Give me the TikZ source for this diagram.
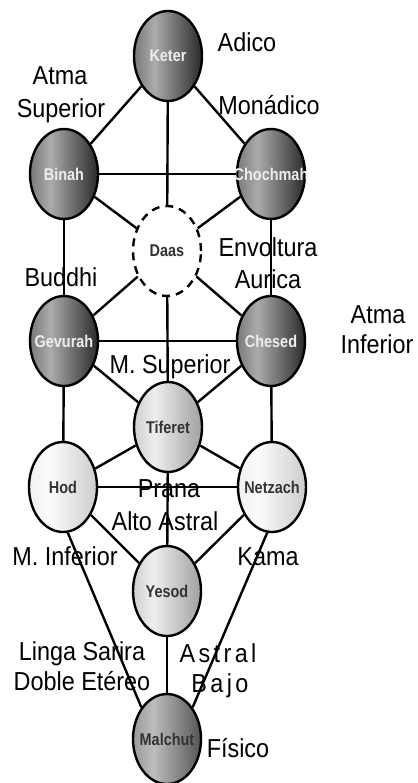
\documentclass[tikz,border=0pt]{standalone}
\usepackage{fontspec}
\setmainfont{Liberation Sans}
\newfontfamily\nodefont[FakeStretch=0.85]{Liberation Sans}
\newfontfamily\lblfont[FakeStretch=0.9]{Liberation Sans}
\usetikzlibrary{shapes.geometric}
\definecolor{dkL}{HTML}{7A7A7A}
\definecolor{dkM}{HTML}{ABABAB}
\definecolor{dkR}{HTML}{2A2A2A}
\definecolor{mdL}{HTML}{999999}
\definecolor{mdM}{HTML}{BDBDBD}
\definecolor{mdR}{HTML}{555555}
\definecolor{ltL}{HTML}{CFCFCF}
\definecolor{ltM}{HTML}{EEEEEE}
\definecolor{ltR}{HTML}{A0A0A0}
\definecolor{wtL}{HTML}{F0F0F0}
\definecolor{wtM}{HTML}{FCFCFC}
\definecolor{wtR}{HTML}{CCCCCC}
\pgfdeclarehorizontalshading{darkball}{100bp}{color(0bp)=(dkL); color(25bp)=(dkL); color(40bp)=(dkM); color(75bp)=(dkR); color(100bp)=(dkR)}
\pgfdeclarehorizontalshading{midball}{100bp}{color(0bp)=(mdL); color(25bp)=(mdL); color(40bp)=(mdM); color(75bp)=(mdR); color(100bp)=(mdR)}
\pgfdeclarehorizontalshading{lightball}{100bp}{color(0bp)=(ltL); color(25bp)=(ltL); color(40bp)=(ltM); color(75bp)=(ltR); color(100bp)=(ltR)}
\pgfdeclarehorizontalshading{whiteball}{100bp}{color(0bp)=(wtL); color(25bp)=(wtL); color(40bp)=(wtM); color(75bp)=(wtR); color(100bp)=(wtR)}
\newcommand\zw[1]{\makebox[0pt][c]{#1}}
\tikzset{
  sefira/.style={ellipse, draw=black, line width=2.4pt, minimum width=68pt, minimum height=90pt, inner sep=0pt,
    font=\nodefont\bfseries\fontsize{17}{18}\selectfont},
  darksef/.style={sefira, shading=darkball, text=white!93!black},
  midsef/.style={sefira, shading=midball, text=black!80},
  lightsef/.style={sefira, shading=lightball, text=black!80},
  whitesef/.style={sefira, shading=whiteball, text=black!80},
  hiddensef/.style={sefira, fill=white, dash pattern=on 8pt off 6pt, text=black!80},
  path/.style={draw=black, line width=2.4pt},
  lbl/.style={anchor=base, inner sep=0pt, font=\lblfont\fontsize{26}{30}\selectfont}
}
\newcommand\lsp{\kern3.4pt}
\begin{document}
\begin{tikzpicture}[x=1pt,y=-1pt]
\useasboundingbox (0,0) rectangle (417,783);
% sefirot
\node[darksef] (keter) at (168,56) {\zw{Keter}};
\node[darksef] (binah) at (64,174) {\zw{Binah}};
\node[darksef] (chochmah) at (271,174) {\zw{Chochmah}};
\node[hiddensef] (daas) at (167,251) {\zw{Daas}};
\node[darksef] (gevurah) at (64,341) {\zw{Gevurah}};
\node[darksef] (chesed) at (271,341) {\zw{Chesed}};
\node[lightsef] (tiferet) at (168,427) {\zw{Tiferet}};
\node[whitesef] (hod) at (63,487) {\zw{Hod}};
\node[whitesef] (netzach) at (272,487) {\zw{Netzach}};
\node[lightsef] (yesod) at (167,591) {\zw{Yesod}};
\node[midsef] (malchut) at (167,739) {\zw{Malchut}};
% paths
\draw[path] (keter) -- (binah);
\draw[path] (keter) -- (chochmah);
\draw[path] (keter) -- (daas);
\draw[path] (binah) -- (chochmah);
\draw[path] (binah) -- (daas);
\draw[path] (chochmah) -- (daas);
\draw[path] (binah) -- (gevurah);
\draw[path] (chochmah) -- (chesed);
\draw[path] (daas) -- (gevurah);
\draw[path] (daas) -- (chesed);
\draw[path] (daas) -- (tiferet);
\draw[path] (gevurah) -- (chesed);
\draw[path] (gevurah) -- (tiferet);
\draw[path] (chesed) -- (tiferet);
\draw[path] (gevurah) -- (hod);
\draw[path] (chesed) -- (netzach);
\draw[path] (tiferet) -- (hod);
\draw[path] (tiferet) -- (netzach);
\draw[path] (hod) -- (netzach);
\draw[path] (tiferet) -- (yesod);
\draw[path] (hod) -- (yesod);
\draw[path] (netzach) -- (yesod);
\draw[path] (hod.-84) -- (malchut.129);
\draw[path] (netzach.-96) -- (malchut.51);
\draw[path] (yesod) -- (malchut);
% labels
\node[lbl] (l1) at (247,52) {Adico};
\node[lbl] (l2a) at (60,85) {Atma};
\node[lbl] (l2b) at (61,118) {Superior};
\node[lbl] (l3) at (269,115) {Monádico};
\node[lbl] (l4a) at (268,257) {Envoltura};
\node[lbl] (l4b) at (268,288) {Aurica};
\node[lbl] (l5) at (61,287) {Buddhi};
\node[lbl] (l6a) at (378,323) {Atma};
\node[lbl] (l6b) at (377,353) {Inferior};
\node[lbl] (l7) at (170,373) {M. Superior};
\node[lbl] (l8a) at (169,497) {Prana};
\node[lbl] (l8b) at (165,530) {Alto Astral};
\node[lbl] (l9) at (65,565) {M. Inferior};
\node[lbl] (l10) at (268,565) {Kama};
\node[lbl] (l11a) at (82,660) {Linga Sarira};
\node[lbl] (l11b) at (82,690) {Doble Etéreo};
\node[lbl] (l12a) at (218,662) {A\lsp s\lsp t\lsp r\lsp a\lsp l};
\node[lbl] (l12b) at (220,692) {B\lsp a\lsp j\lsp o};
\node[lbl] (l13) at (238,757) {Físico};
\end{tikzpicture}
\end{document}
